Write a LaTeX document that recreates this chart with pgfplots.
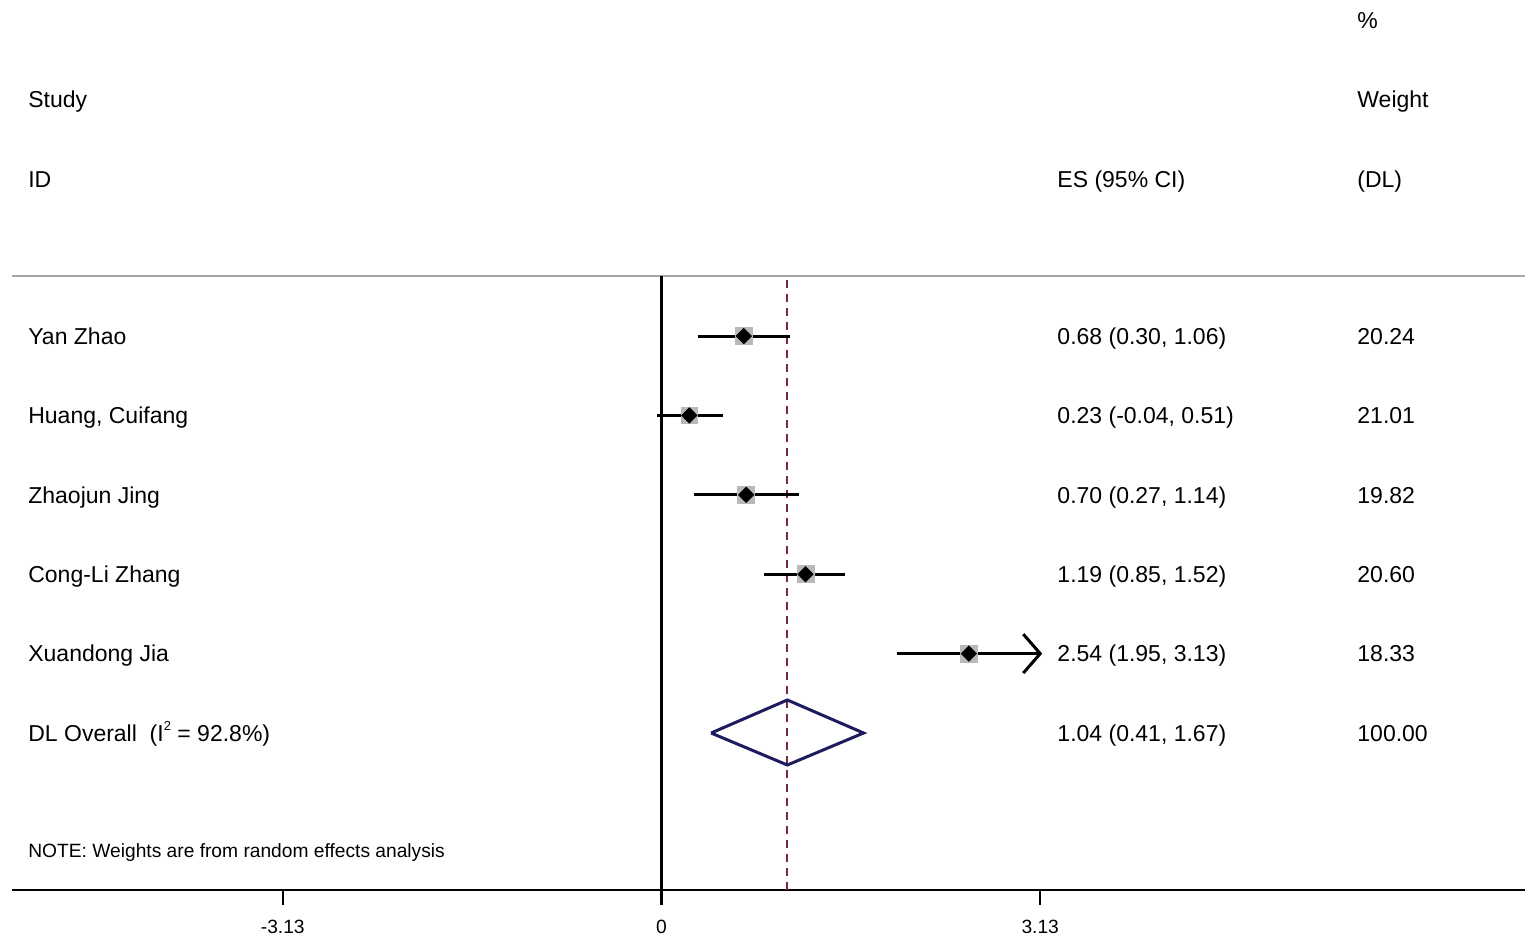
\documentclass[border=0pt]{standalone}
\usepackage{fontspec}
\setmainfont{Liberation Sans}
\usepackage{pgfplots}
\pgfplotsset{compat=1.18}
\usepackage{pgfplotstable}

\definecolor{refline}{RGB}{120,40,60}
\definecolor{ovnavy}{RGB}{28,28,95}
\definecolor{boxgray}{RGB}{185,185,185}

% study  es  lo  hi  row
\pgfplotstableread{
y   es    lo     hi
6   0.68  0.30   1.06
5   0.23  -0.04  0.51
4   0.70  0.27   1.14
3   1.19  0.85   1.52
2   2.54  1.95   3.13
}\studies

\newcommand{\bigtxt}{\fontsize{11.5}{13}\selectfont}
\newcommand{\smalltxt}{\fontsize{9.6}{11}\selectfont}

\begin{document}
\begin{tikzpicture}
\begin{axis}[
  scale only axis,
  width=756.5pt, height=445pt,
  xmin=-5.368, xmax=7.136,
  ymin=-0.977, ymax=10.232,
  axis x line=bottom, axis y line=none,
  axis line style={-, line width=1.1pt},
  xtick={-3.13,0,3.13}, xticklabels={-3.13,0,3.13},
  tick align=outside, major tick length=7.5pt,
  tick style={black, line width=1.1pt},
  xticklabel style={font=\smalltxt, inner sep=0pt, yshift=-7.5pt},
  clip=false,
]
% bounding box of the whole figure
\path (axis cs:-5.467,10.232) rectangle (axis cs:7.219,-1.645);

% header rule, null line, overall line
\addplot[gray!70, line width=1pt] coordinates {(-5.368,6.756) (7.136,6.756)};
\addplot[black, line width=1.1pt] coordinates {(0,-0.977) (0,6.756)};
\addplot[refline, line width=1pt, dash pattern=on 4pt off 3pt] coordinates {(1.04,-0.977) (1.04,6.756)};

% confidence intervals
\addplot[black, line width=1.5pt] coordinates {(0.30,6) (1.06,6)};
\addplot[black, line width=1.5pt] coordinates {(-0.04,5) (0.51,5)};
\addplot[black, line width=1.5pt] coordinates {(0.27,4) (1.14,4)};
\addplot[black, line width=1.5pt] coordinates {(0.85,3) (1.52,3)};
\addplot[black, line width=1.5pt] coordinates {(1.95,2) (3.13,2)};
\addplot[black, line width=1.5pt] coordinates {(2.99,2.245) (3.13,2) (2.99,1.755)};

% weight boxes and point estimates
\addplot[only marks, mark=square*, mark size=4.2pt, mark options={fill=boxgray, draw=boxgray}] table[x=es, y=y] {\studies};
\addplot[only marks, mark=square*, mark size=2.7pt, mark options={fill=black, draw=black, rotate=45}] table[x=es, y=y] {\studies};

% overall diamond
\addplot[ovnavy, line width=1.5pt] coordinates {(0.41,1) (1.04,1.416) (1.67,1) (1.04,0.597) (0.41,1)};

% text columns
\begin{scope}[every node/.style={anchor=base west, inner sep=0pt, font=\bigtxt, yshift=-4.1pt}]
\node at (axis cs:5.748,9.98) {\%};
\node at (axis cs:-5.236,8.985) {Study};
\node at (axis cs:5.748,8.985) {Weight};
\node at (axis cs:-5.236,7.977) {ID};
\node at (axis cs:3.269,7.977) {ES (95\% CI)};
\node at (axis cs:5.748,7.977) {(DL)};

\node at (axis cs:-5.236,6) {Yan Zhao};
\node at (axis cs:-5.236,5) {Huang, Cuifang};
\node at (axis cs:-5.236,4) {Zhaojun Jing};
\node at (axis cs:-5.236,3) {Cong-Li Zhang};
\node at (axis cs:-5.236,2) {Xuandong Jia};
\node at (axis cs:-5.236,1) {DL Overall\ \ (I\raisebox{0.9ex}{\fontsize{6.5}{7}\selectfont 2} = 92.8\%)};

\node at (axis cs:3.269,6) {0.68 (0.30, 1.06)};
\node at (axis cs:3.269,5) {0.23 (-0.04, 0.51)};
\node at (axis cs:3.269,4) {0.70 (0.27, 1.14)};
\node at (axis cs:3.269,3) {1.19 (0.85, 1.52)};
\node at (axis cs:3.269,2) {2.54 (1.95, 3.13)};
\node at (axis cs:3.269,1) {1.04 (0.41, 1.67)};

\node at (axis cs:5.748,6) {20.24};
\node at (axis cs:5.748,5) {21.01};
\node at (axis cs:5.748,4) {19.82};
\node at (axis cs:5.748,3) {20.60};
\node at (axis cs:5.748,2) {18.33};
\node at (axis cs:5.748,1) {100.00};
\end{scope}
\node[anchor=base west, inner sep=0pt, font=\smalltxt, yshift=-3.4pt] at (axis cs:-5.236,-0.486) {NOTE: Weights are from random effects analysis};
\end{axis}
\end{tikzpicture}
\end{document}
